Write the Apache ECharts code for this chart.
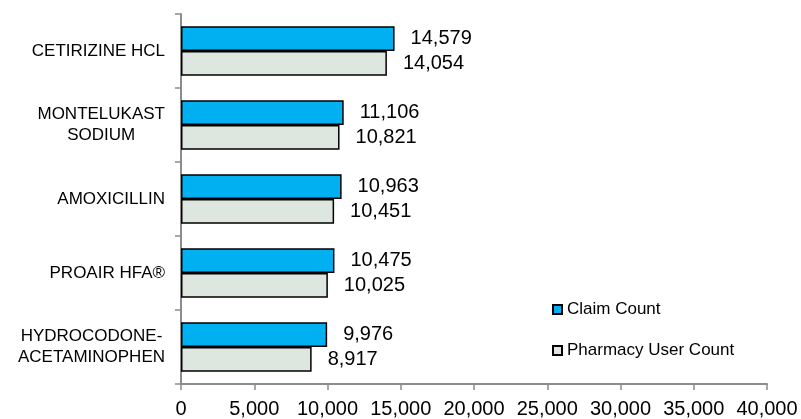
<!DOCTYPE html>
<html>
<head>
<meta charset="utf-8">
<script src="https://cdn.jsdelivr.net/npm/echarts@6/dist/echarts.min.js"></script>
<style>html,body{margin:0;padding:0;background:#fff}#c{width:801px;height:419px}</style>
</head>
<body>
<div id="c"></div>
<script>
const categories = ['CETIRIZINE HCL', 'MONTELUKAST\nSODIUM', 'AMOXICILLIN', 'PROAIR HFA®', 'HYDROCODONE-\nACETAMINOPHEN'];
const claimCount = [14579, 11106, 10963, 10475, 9976];
const pharmacyUserCount = [14054, 10821, 10451, 10025, 8917];
const seriesNames = ['Claim Count', 'Pharmacy User Count'];

const FONT = 'Liberation Sans, Arial, sans-serif';
const fmt = v => v.toLocaleString('en-US');
const chart = echarts.init(document.getElementById('c'));
const labelStyle = {
  show: true, position: 'right', distance: 16,
  color: '#000', fontSize: 20, fontFamily: FONT,
  formatter: p => fmt(p.value)
};
chart.setOption({
  animation: false,
  textStyle: { fontFamily: FONT },
  grid: { left: 181, right: 34, top: 14, bottom: 35, containLabel: false },
  legend: {
    orient: 'vertical', left: 547, top: 296, itemWidth: 9, itemHeight: 9, itemGap: 24,
    icon: 'rect',
    textStyle: { color: '#000', fontSize: 17, fontFamily: FONT },
    data: seriesNames
  },
  xAxis: {
    type: 'value', min: 0, max: 40000, interval: 5000,
    axisLine: { show: true, lineStyle: { color: '#8c8c8c', width: 2 } },
    axisTick: { show: true, length: 6, lineStyle: { color: '#8c8c8c', width: 1.5 } },
    splitLine: { show: false },
    axisLabel: { color: '#000', fontSize: 20, fontFamily: FONT, margin: 15, formatter: v => fmt(v) }
  },
  yAxis: {
    type: 'category', inverse: true, data: categories,
    axisLine: { show: true, lineStyle: { color: '#8c8c8c', width: 2 } },
    axisTick: { show: true, length: 6, lineStyle: { color: '#8c8c8c', width: 1.5 } },
    axisLabel: {
      margin: 16, align: 'right',
      formatter: v => v.split('\n').map(s => '{a|' + s + '}').join('\n'),
      rich: { a: { color: '#000', fontSize: 17, fontFamily: FONT, align: 'center', lineHeight: 21 } }
    }
  },
  series: [
    {
      name: seriesNames[0], type: 'bar', data: claimCount,
      barGap: '0%', barCategoryGap: '33%',
      itemStyle: { color: '#00B0F0', borderColor: '#000', borderWidth: 1.5 },
      label: labelStyle
    },
    {
      name: seriesNames[1], type: 'bar', data: pharmacyUserCount,
      itemStyle: { color: '#DDE6DF', borderColor: '#000', borderWidth: 1.5 },
      label: labelStyle
    }
  ]
});
</script>
</body>
</html>
